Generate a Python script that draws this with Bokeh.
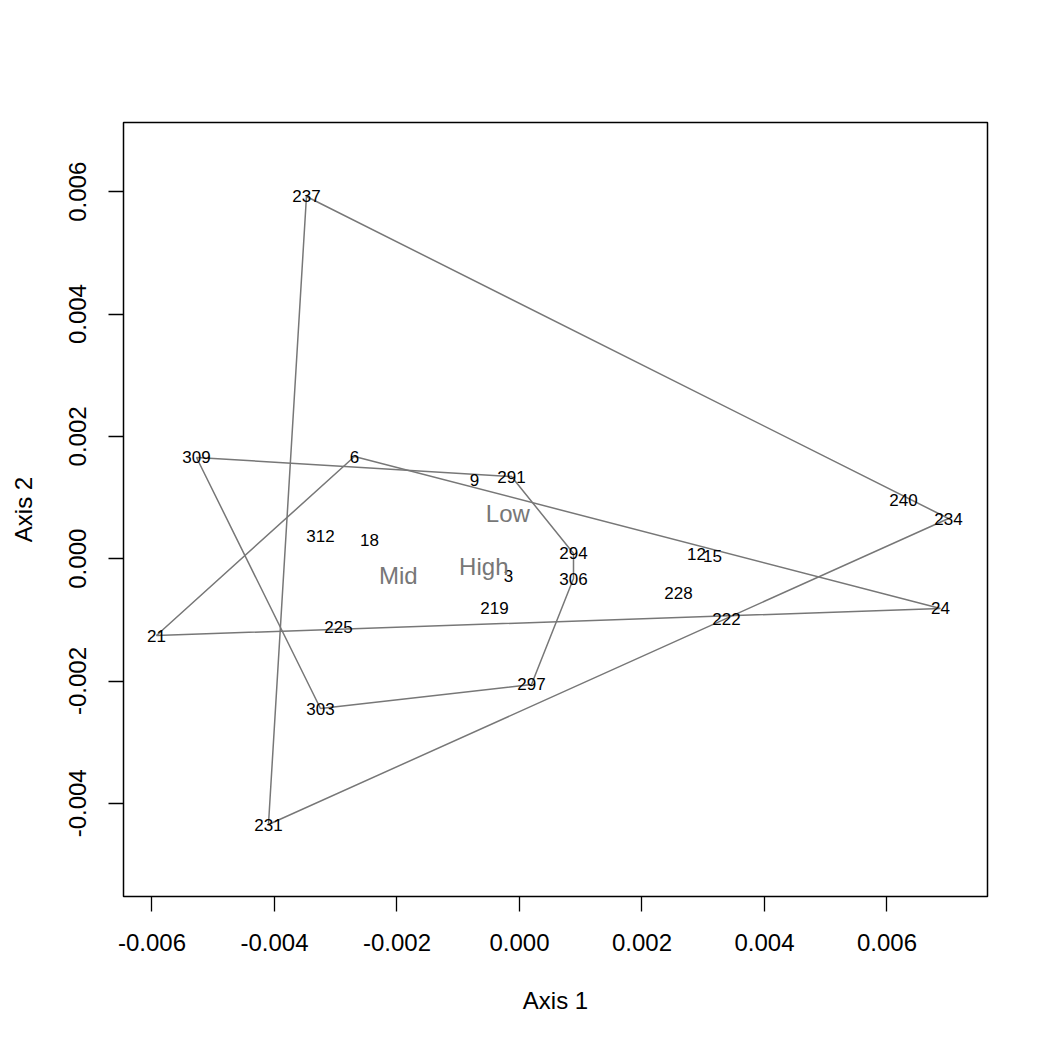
from bokeh.plotting import figure
from bokeh.models import Range1d, FixedTicker, PrintfTickFormatter, ColumnDataSource
from bokeh.embed import file_html
from bokeh.resources import INLINE
from bokeh.core.properties import value
import numpy as np

# ---- data (site scores) ----
sites = ["237", "240", "234", "309", "6", "9", "291", "312", "18", "294", "12", "15",
         "3", "306", "228", "219", "24", "222", "225", "21", "297", "303", "231"]
axis1 = [-0.003478, 0.006269, 0.007004, -0.005273, -0.002694, -0.000735, -0.000131,
         -0.003249, -0.002449, 0.000882, 0.002890, 0.003151, -0.000180, 0.000882,
         0.002596, -0.000408, 0.006873, 0.003380, -0.002955, -0.005927, 0.000196,
         -0.003249, -0.004098]
axis2 = [0.005923, 0.000968, 0.000657, 0.001655, 0.001671, 0.001295, 0.001344,
         0.000363, 0.000298, 0.000085, 0.000069, 0.000052, -0.000275, -0.000324,
         -0.000569, -0.000814, -0.000814, -0.000978, -0.001125, -0.001256, -0.002057,
         -0.002450, -0.004347]

group_names = ["Low", "Mid", "High"]
hull_low = ["237", "234", "231"]
hull_mid = ["309", "291", "294", "306", "297", "303"]
hull_high = ["6", "24", "21"]
hulls = [hull_low, hull_mid, hull_high]

x_ticks = [-0.006, -0.004, -0.002, 0.000, 0.002, 0.004, 0.006]
y_ticks = [-0.004, -0.002, 0.000, 0.002, 0.004, 0.006]

x_label = "Axis 1"
y_label = "Axis 2"

# ---- derived ----
pos = {s: (x, y) for s, x, y in zip(sites, axis1, axis2)}


def poly_centroid(xs, ys):
    xs = np.asarray(xs); ys = np.asarray(ys)
    x1 = np.roll(xs, -1); y1 = np.roll(ys, -1)
    c = xs * y1 - x1 * ys
    a = c.sum() / 2.0
    cx = ((xs + x1) * c).sum() / (6 * a)
    cy = ((ys + y1) * c).sum() / (6 * a)
    return cx, cy


hx, hy, cxs, cys = [], [], [], []
for h in hulls:
    xs = [pos[s][0] for s in h]
    ys = [pos[s][1] for s in h]
    hx.append(xs); hy.append(ys)
    cx, cy = poly_centroid(xs, ys)
    cxs.append(cx); cys.append(cy)

FONT = "Liberation Sans"
GRAY = "#777777"

p = figure(width=1050, height=1050, output_backend="svg", toolbar_location=None,
           x_range=Range1d(-0.006465, 0.007641), y_range=Range1d(-0.005524, 0.007133),
           min_border_left=123, min_border_right=63, min_border_top=122, min_border_bottom=154,
           background_fill_color="white", border_fill_color="white")

p.xgrid.grid_line_color = None
p.ygrid.grid_line_color = None
p.outline_line_color = "black"
p.outline_line_width = 1.5
p.outline_line_alpha = 1.0

for ax, ticks in ((p.xaxis[0], x_ticks), (p.yaxis[0], y_ticks)):
    ax.ticker = FixedTicker(ticks=ticks)
    ax.formatter = PrintfTickFormatter(format="%.3f")
    ax.axis_line_color = None
    ax.major_tick_in = 0
    ax.major_tick_out = 15
    ax.major_tick_line_width = 1.3
    ax.major_tick_line_color = "black"
    ax.minor_tick_line_color = None
    ax.major_label_text_font = FONT
    ax.major_label_text_font_size = "24px"
    ax.major_label_text_color = "black"
    ax.axis_label_text_font = FONT
    ax.axis_label_text_font_size = "24px"
    ax.axis_label_text_font_style = "normal"
    ax.axis_label_text_color = "black"
    ax.major_label_standoff = 22

p.xaxis[0].axis_label = x_label
p.yaxis[0].axis_label = y_label
p.yaxis[0].major_label_orientation = "vertical"
p.xaxis[0].axis_label_standoff = 33
p.yaxis[0].axis_label_standoff = 30

# hulls
p.patches(hx, hy, fill_alpha=0, line_color=GRAY, line_width=1.5)

# site labels
src = ColumnDataSource(dict(x=axis1, y=axis2, t=sites))
p.text("x", "y", text="t", source=src, text_font=value(FONT), text_font_size="17px",
       text_color="black", text_align="center", text_baseline="middle")

# group labels at hull centroids
gsrc = ColumnDataSource(dict(x=cxs, y=cys, t=group_names))
p.text("x", "y", text="t", source=gsrc, text_font=value(FONT), text_font_size="24px",
       text_color=GRAY, text_align="center", text_baseline="middle")

open("out.html", "w").write(file_html(p, INLINE))
